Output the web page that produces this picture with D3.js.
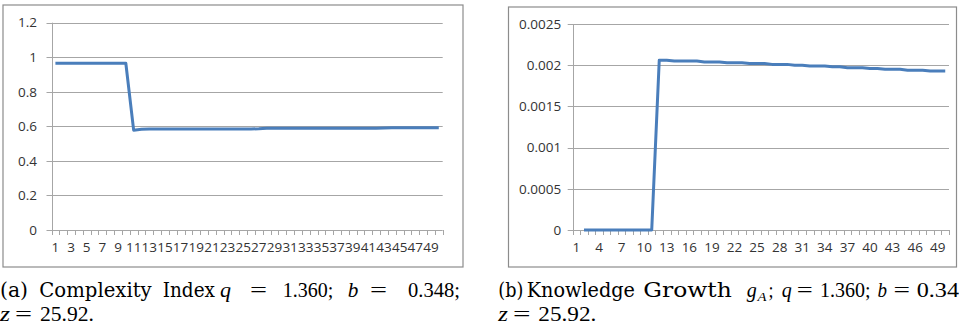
<!DOCTYPE html>
<html>
<head>
<meta charset="utf-8">
<script src="https://cdn.jsdelivr.net/npm/d3@7"></script>
<style>
  body { margin: 0; background: #fff; }
  svg { display: block; }
  .tick-label { font-family: "Open Sans", sans-serif; font-size: 13.5px; fill: #333; }
  .caption { font-family: "DejaVu Serif", serif; font-size: 19.5px; fill: #000; }
  .caption.num { font-family: "Liberation Serif", serif; font-size: 20.5px; }
</style>
</head>
<body>
<svg id="chart" width="959" height="326"></svg>
<script>
// categories 1..50 for both panels
const periods = d3.range(1, 51);

// (a) complexity index
const complexityIndex = [
  0.965, 0.965, 0.965, 0.965, 0.965, 0.965, 0.965, 0.965, 0.965, 0.965,
  0.578, 0.583, 0.585, 0.585, 0.585, 0.585, 0.585, 0.585, 0.585, 0.585,
  0.585, 0.585, 0.585, 0.585, 0.585, 0.585, 0.586, 0.589, 0.589, 0.589,
  0.589, 0.589, 0.589, 0.589, 0.589, 0.589, 0.589, 0.589, 0.589, 0.589,
  0.589, 0.589, 0.590, 0.592, 0.592, 0.592, 0.592, 0.592, 0.592, 0.592
];

// (b) knowledge growth g_A (first period missing)
const knowledgeGrowth = [
  null, 0, 0, 0, 0, 0, 0, 0, 0, 0,
  0, 0.00206, 0.00206, 0.00205, 0.00205, 0.00205, 0.00205, 0.00204, 0.00204, 0.00204,
  0.00203, 0.00203, 0.00203, 0.00202, 0.00202, 0.00202, 0.00201, 0.00201, 0.00201, 0.00200,
  0.00200, 0.00199, 0.00199, 0.00199, 0.00198, 0.00198, 0.00197, 0.00197, 0.00197, 0.00196,
  0.00196, 0.00195, 0.00195, 0.00195, 0.00194, 0.00194, 0.00194, 0.00193, 0.00193, 0.00193
];

const ticksA = [0, 0.2, 0.4, 0.6, 0.8, 1, 1.2];
const tickLabelsA = ['0', '0.2', '0.4', '0.6', '0.8', '1', '1.2'];
const ticksB = [0, 0.0005, 0.001, 0.0015, 0.002, 0.0025];
const tickLabelsB = ['0', '0.0005', '0.001', '0.0015', '0.002', '0.0025'];

const svg = d3.select('#chart');

function drawPanel(opts) {
  const g = svg.append('g');

  // outer frame
  g.append('rect')
    .attr('x', opts.frame[0] + 0.5)
    .attr('y', opts.frame[1] + 0.5)
    .attr('width', opts.frame[2] - opts.frame[0])
    .attr('height', opts.frame[3] - opts.frame[1])
    .attr('fill', 'none')
    .attr('stroke', '#8c8c8c')
    .attr('stroke-width', 1.2);

  const x = d3.scaleBand()
    .domain(periods)
    .range([opts.left, opts.right])
    .padding(0);

  const y = d3.scaleLinear()
    .domain([0, d3.max(opts.ticks)])
    .range([opts.bottom, opts.top]);

  // gridlines (with small outside tick)
  g.selectAll('.grid')
    .data(opts.ticks)
    .enter()
    .append('line')
    .attr('x1', opts.left - 5)
    .attr('x2', opts.right)
    .attr('y1', d => Math.round(y(d)) + 0.5)
    .attr('y2', d => Math.round(y(d)) + 0.5)
    .attr('stroke', '#a6a6a6')
    .attr('stroke-width', 1);

  // y labels
  g.selectAll('.ylab')
    .data(opts.ticks)
    .enter()
    .append('text')
    .attr('class', 'tick-label')
    .attr('x', opts.left - opts.labelGap)
    .attr('y', d => y(d))
    .attr('dy', '0.35em')
    .attr('text-anchor', 'end')
    .text((d, i) => opts.tickLabels[i]);

  // y axis line
  g.append('line')
    .attr('x1', Math.round(opts.left) + 0.5)
    .attr('x2', Math.round(opts.left) + 0.5)
    .attr('y1', opts.top)
    .attr('y2', opts.bottom)
    .attr('stroke', '#a6a6a6');

  // category boundary ticks
  const edges = periods.map(p => x(p)).concat([opts.right]);
  g.selectAll('.xtick')
    .data(edges)
    .enter()
    .append('line')
    .attr('x1', d => Math.round(d) + 0.5)
    .attr('x2', d => Math.round(d) + 0.5)
    .attr('y1', opts.bottom)
    .attr('y2', opts.bottom + 5)
    .attr('stroke', '#a6a6a6');

  // x labels
  g.selectAll('.xlab')
    .data(periods.filter((p, i) => i % opts.labelEvery === 0))
    .enter()
    .append('text')
    .attr('class', 'tick-label')
    .attr('x', d => x(d) + x.bandwidth() / 2)
    .attr('y', opts.bottom + 22)
    .attr('text-anchor', 'middle')
    .text(d => d);

  // series line
  const line = d3.line()
    .defined(d => d.v !== null)
    .x(d => x(d.p) + x.bandwidth() / 2)
    .y(d => y(d.v));

  g.append('path')
    .datum(periods.map((p, i) => ({ p, v: opts.values[i] })))
    .attr('fill', 'none')
    .attr('stroke', '#4a7ebb')
    .attr('stroke-width', 3)
    .attr('stroke-linejoin', 'round')
    .attr('d', line);
}

drawPanel({
  frame: [2.5, 4.5, 462.5, 266.5],
  left: 51.5, right: 442.7, top: 22.7, bottom: 230,
  ticks: ticksA, tickLabels: tickLabelsA, labelGap: 14.5,
  values: complexityIndex, labelEvery: 2
});

drawPanel({
  frame: [508, 6.5, 956, 266.5],
  left: 572.7, right: 949, top: 24, bottom: 230,
  ticks: ticksB, tickLabels: tickLabelsB, labelGap: 11.5,
  values: knowledgeGrowth, labelEvery: 3
});

// captions: [text, x, width, baseline, kind]  kind: w = word, n = number/symbol, i = italic symbol
const captionTokens = [
  ['(a)', 0, 28, 297, 'w'],
  ['Complexity', 39.3, 112.4, 297, 'w'],
  ['Index', 162.7, 52.3, 297, 'w'],
  ['q', 220, 11, 297, 'i'],
  ['=', 250, 17, 297, 'n'],
  ['1.360;', 282.7, 50.6, 297, 'n'],
  ['b', 347.7, 10.6, 297, 'i'],
  ['=', 370, 17, 297, 'n'],
  ['0.348;', 408, 52, 297, 'n'],
  ['z', 0, 10, 320.5, 'i'],
  ['=', 15, 17, 320.5, 'n'],
  ['25.92.', 40, 54, 320.5, 'n'],
  ['(b)', 498.3, 25, 297, 'w'],
  ['Knowledge', 526.7, 108.3, 297, 'w'],
  ['Growth', 643.3, 88.4, 297, 'w'],
  ['g', 746.7, 10, 297, 'i'],
  [';', 768.5, 5, 297, 'n'],
  ['q', 781.7, 10, 297, 'i'],
  ['=', 796.7, 16, 297, 'n'],
  ['1.360;', 820, 50.5, 297, 'n'],
  ['b', 877.5, 9.5, 297, 'i'],
  ['=', 893.5, 16.5, 297, 'n'],
  ['0.34', 916.7, 42.3, 297, 'n'],
  ['z', 498.3, 9.7, 320.5, 'i'],
  ['=', 513, 17.5, 320.5, 'n'],
  ['25.92.', 538.3, 58, 320.5, 'n']
];

svg.selectAll('.cap')
  .data(captionTokens)
  .enter()
  .append('text')
  .attr('class', d => d[4] === 'w' ? 'caption' : 'caption num')
  .attr('x', d => d[1])
  .attr('y', d => d[3])
  .attr('textLength', d => d[2])
  .attr('lengthAdjust', 'spacingAndGlyphs')
  .style('font-style', d => d[4] === 'i' ? 'italic' : 'normal')
  .text(d => d[0]);

// subscript A of g_A
svg.append('text')
  .attr('class', 'caption num')
  .attr('x', 757.5)
  .attr('y', 301)
  .attr('textLength', 9)
  .attr('lengthAdjust', 'spacingAndGlyphs')
  .style('font-size', '13.5px')
  .style('font-style', 'italic')
  .text('A');
</script>
</body>
</html>
